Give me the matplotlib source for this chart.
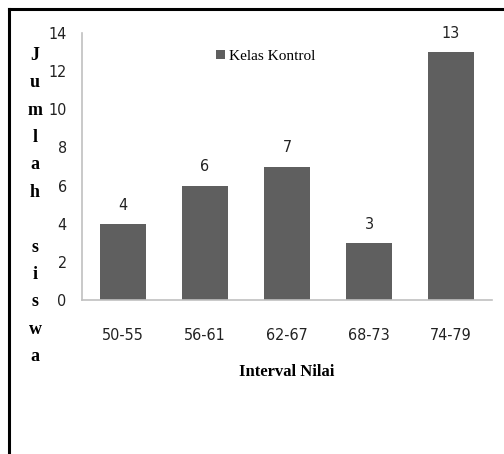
import matplotlib
matplotlib.use("Agg")
import matplotlib.pyplot as plt
from matplotlib.lines import Line2D

categories = ["50-55", "56-61", "62-67", "68-73", "74-79"]
counts = [4, 6, 7, 3, 13]
yticks = [0, 2, 4, 6, 8, 10, 12, 14]
series_name = "Kelas Kontrol"
xlabel = "Interval Nilai"
ylabel = "Jumlah siswa"

W, H = 504, 454
fig = plt.figure(figsize=(W / 100, H / 100), dpi=100)

# axes box in pixel terms: left 82, right 492, top 33, bottom 300
ax = fig.add_axes([82 / W, 1 - 300 / H, (492 - 82) / W, (300 - 33) / H])

bar_color = "#5f5f5f"
x = range(len(categories))
bars = ax.bar(x, counts, width=0.57, color=bar_color, label=series_name, zorder=2)

ax.set_xlim(-0.5, len(categories) - 0.5)
ax.set_ylim(0, 14)
ax.set_yticks(yticks)
ax.set_xticks(list(x))

tick_font = dict(family="DejaVu Sans", stretch="condensed", fontsize=11.5, color="#222222")
ax.set_xticklabels(categories, **tick_font)
ax.set_yticklabels([str(t) for t in yticks], **tick_font)
ax.tick_params(axis="both", length=0)
ax.tick_params(axis="x", pad=20)
ax.tick_params(axis="y", pad=11)

for side in ["top", "right"]:
    ax.spines[side].set_visible(False)
for side in ["left", "bottom"]:
    ax.spines[side].set_color("#c0c0c0")
    ax.spines[side].set_linewidth(1.2)

for rect, v in zip(bars, counts):
    ax.annotate(str(v), (rect.get_x() + rect.get_width() / 2, v),
                xytext=(0, 8), textcoords="offset points",
                ha="center", va="bottom", **tick_font)

# legend
ax.legend(loc="upper left",
          bbox_to_anchor=((208 - 82) / (492 - 82), 1 - (42 - 33) / (300 - 33)),
          frameon=False, handlelength=0.6, handleheight=0.6,
          handletextpad=0.25, borderpad=0,
          prop={"family": "Liberation Serif", "size": 11})

# axis titles
fig.text(287 / W, 1 - 372 / H, xlabel, ha="center", va="center",
         family="Liberation Serif", fontweight="bold", fontsize=12)
fig.text(35 / W, 1 - 206 / H, "\n".join(ylabel),
         ha="center", va="center", family="Liberation Serif",
         fontweight="bold", fontsize=13, linespacing=1.8)

# outer frame (top and left edges)
fig.add_artist(Line2D([9 / W, 1], [1 - 9 / H, 1 - 9 / H], transform=fig.transFigure,
                      color="black", lw=2.2))
fig.add_artist(Line2D([9 / W, 9 / W], [0, 1 - 9 / H], transform=fig.transFigure,
                      color="black", lw=2.2))

fig.savefig("out.png", dpi=100)
